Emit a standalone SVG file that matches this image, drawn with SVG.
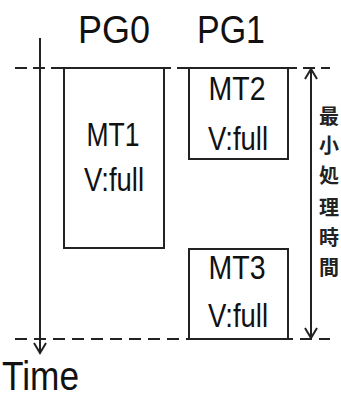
<svg xmlns="http://www.w3.org/2000/svg" width="341" height="400" viewBox="0 0 341 400">
<defs>
<style>
.box{fill:#fff;stroke:#222;stroke-width:2}
.dash{stroke:#222;stroke-width:2;fill:none}
.ax{stroke:#222;stroke-width:2;fill:none}
.t{font-family:"Liberation Sans",Arial,sans-serif;fill:#111;text-anchor:middle}
.jp{font-family:"Noto Sans CJK JP","Noto Sans CJK SC",sans-serif;font-weight:bold;font-size:20px;fill:#222;text-anchor:middle}
</style>
<marker id="ah" viewBox="0 0 14 14" refX="12" refY="7" markerWidth="14" markerHeight="14" markerUnits="userSpaceOnUse" orient="auto-start-reverse">
<path d="M2,1 L12,7 L2,13" fill="none" stroke="#222" stroke-width="2"/>
</marker>
</defs>
<rect width="341" height="400" fill="#fff"/>
<g id="connectors">
<line class="dash" x1="15" y1="68" x2="330" y2="68" stroke-dasharray="12,6"/>
<line class="dash" x1="15" y1="339" x2="330" y2="339" stroke-dasharray="12,7"/>
<line id="time-axis" class="ax" x1="40" y1="38" x2="40" y2="353" marker-end="url(#ah)"/>
<line id="min-time" class="ax" x1="311" y1="69" x2="311" y2="338" marker-start="url(#ah)" marker-end="url(#ah)"/>
</g>
<g id="PG0"><text class="t" x="114" y="43" font-size="39" textLength="72" lengthAdjust="spacingAndGlyphs">PG0</text></g>
<g id="PG1"><text class="t" x="231" y="43" font-size="39" textLength="68" lengthAdjust="spacingAndGlyphs">PG1</text></g>
<g id="MT1">
<rect class="box" x="64" y="68" width="100" height="180"/>
<text class="t" x="113" y="146" font-size="34" textLength="53" lengthAdjust="spacingAndGlyphs">MT1</text>
<text class="t" x="114" y="191" font-size="34" textLength="60" lengthAdjust="spacingAndGlyphs">V:full</text>
</g>
<g id="MT2">
<rect class="box" x="189" y="68" width="99" height="91"/>
<text class="t" x="237" y="100" font-size="34" textLength="57" lengthAdjust="spacingAndGlyphs">MT2</text>
<text class="t" x="238" y="150" font-size="34" textLength="60" lengthAdjust="spacingAndGlyphs">V:full</text>
</g>
<g id="MT3">
<rect class="box" x="189" y="249" width="99" height="90"/>
<text class="t" x="237" y="279" font-size="34" textLength="57" lengthAdjust="spacingAndGlyphs">MT3</text>
<text class="t" x="238" y="327" font-size="34" textLength="60" lengthAdjust="spacingAndGlyphs">V:full</text>
</g>
<g id="label-min">
<text class="jp" x="329" y="124">最</text>
<text class="jp" x="329" y="153">小</text>
<text class="jp" x="329" y="183">処</text>
<text class="jp" x="329" y="215">理</text>
<text class="jp" x="329" y="245">時</text>
<text class="jp" x="329" y="275">間</text>
</g>
<g id="time-label"><text class="t" x="2" y="390" font-size="40" textLength="77" lengthAdjust="spacingAndGlyphs" style="text-anchor:start">Time</text></g>
</svg>
